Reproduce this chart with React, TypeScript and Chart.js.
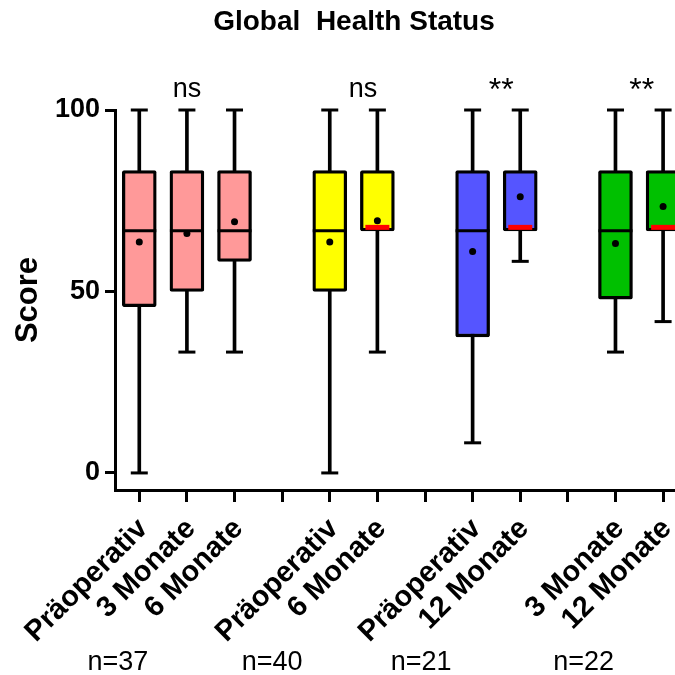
import { useEffect, useRef } from 'react';
import { Chart, registerables } from 'chart.js';

Chart.register(...registerables);

const FONT = '"Liberation Sans", Arial, Helvetica, sans-serif';

// Positions of the boxes on the x axis; 3, 6 and 9 are empty gaps between comparisons.
const slots = [0, 1, 2, 4, 5, 7, 8, 10, 11];
const tickSlots = [0, 1, 2, 3, 4, 5, 6, 7, 8, 9, 10, 11];
const groupLabels = [
  'Präoperativ', '3 Monate', '6 Monate',
  'Präoperativ', '6 Monate',
  'Präoperativ', '12 Monate',
  '3 Monate', '12 Monate',
];

// Five-number summaries plus mean for each box
const whiskerMin = [0, 33.3, 33.3, 0, 33.3, 8.3, 58.3, 33.3, 41.7];
const q1 = [45.8, 50, 58.3, 50, 66.7, 37.5, 66.7, 47.9, 66.7];
const median = [66.7, 66.7, 66.7, 66.7, 66.7, 66.7, 66.7, 66.7, 66.7];
const q3 = [83.3, 83.3, 83.3, 83.3, 83.3, 83.3, 83.3, 83.3, 83.3];
const whiskerMax = [100, 100, 100, 100, 100, 100, 100, 100, 100];
const mean = [63.6, 66.0, 69.2, 63.6, 69.5, 61.0, 76.1, 63.2, 73.4];

const boxColors = [
  '#FF9999', '#FF9999', '#FF9999',
  '#FFFF00', '#FFFF00',
  '#5555FF', '#5555FF',
  '#00C000', '#00C000',
];

const yTicks = [0, 50, 100];

// Significance marks above the comparisons
const sigLabels = ['ns', 'ns', '**', '**'];
const sigX = [1, 4.7, 7.6, 10.55];

// Sample sizes under each comparison
const nLabels = ['n=37', 'n=40', 'n=21', 'n=22'];
const nX = [-0.45, 2.79, 5.92, 9.33];

// Where the median equals Q1 it is marked with a red bar inside the box
const tiedMedianPlugin = {
  id: 'tiedMedian',
  afterDatasetsDraw(chart: any) {
    const { ctx } = chart;
    const xs = chart.scales.x;
    const ys = chart.scales.y;
    ctx.save();
    ctx.fillStyle = '#FF0000';
    slots.forEach((s, i) => {
      if (median[i] <= q1[i]) {
        const px = xs.getPixelForValue(s);
        const py = ys.getPixelForValue(q1[i]);
        ctx.fillRect(px - 12, py - 6, 24, 5);
      }
    });
    ctx.restore();
  },
};

const annotationPlugin = {
  id: 'annotations',
  afterDraw(chart: any) {
    const { ctx, chartArea } = chart;
    const xs = chart.scales.x;
    ctx.save();
    ctx.fillStyle = '#000';
    ctx.textAlign = 'center';
    ctx.textBaseline = 'alphabetic';
    sigLabels.forEach((t, i) => {
      const stars = t.startsWith('*');
      ctx.font = `${stars ? 32 : 27}px ${FONT}`;
      ctx.fillText(t, xs.getPixelForValue(sigX[i]), chartArea.top - (stars ? 10 : 13));
    });
    ctx.font = `27px ${FONT}`;
    nLabels.forEach((t, i) => {
      ctx.fillText(t, xs.getPixelForValue(nX[i]), chart.height - 5);
    });
    ctx.restore();
  },
};

export default function App() {
  const canvasRef = useRef<HTMLCanvasElement | null>(null);

  useEffect(() => {
    const canvas = canvasRef.current;
    if (!canvas) return;

    const capPoints = [
      ...slots.map((x, i) => ({ x, y: whiskerMin[i] })),
      ...slots.map((x, i) => ({ x, y: whiskerMax[i] })),
    ];
    const medianPoints = slots
      .map((x, i) => ({ x, y: median[i] }))
      .filter((_, i) => median[i] > q1[i]);

    const chart = new Chart(canvas, {
      type: 'bar',
      data: {
        datasets: [
          {
            type: 'bar',
            label: 'Whiskers',
            data: slots.map((x, i) => ({ x, y: [whiskerMin[i], whiskerMax[i]] })) as any,
            backgroundColor: '#000',
            borderWidth: 0,
            barThickness: 3,
            grouped: false,
            order: 5,
            clip: false as any,
          },
          {
            type: 'bar',
            label: 'Boxes',
            data: slots.map((x, i) => ({ x, y: [q1[i], q3[i]] })) as any,
            backgroundColor: boxColors,
            borderColor: '#000',
            borderWidth: 3.3,
            borderSkipped: false,
            borderRadius: 2,
            barThickness: 34,
            grouped: false,
            order: 4,
            clip: false as any,
          },
          {
            type: 'scatter',
            label: 'Caps',
            data: capPoints,
            pointStyle: 'line',
            pointRadius: 8.5,
            pointBorderWidth: 3,
            pointBorderColor: '#000',
            order: 3,
            clip: false as any,
          },
          {
            type: 'scatter',
            label: 'Median',
            data: medianPoints,
            pointStyle: 'line',
            pointRadius: 17,
            pointBorderWidth: 3,
            pointBorderColor: '#000',
            order: 2,
            clip: false as any,
          },
          {
            type: 'scatter',
            label: 'Mean',
            data: slots.map((x, i) => ({ x, y: mean[i] })),
            pointStyle: 'circle',
            pointRadius: 3.5,
            pointBackgroundColor: '#000',
            pointBorderWidth: 0,
            order: 1,
            clip: false as any,
          },
        ] as any,
      },
      options: {
        responsive: false,
        animation: false,
        events: [],
        layout: { autoPadding: false, padding: { left: 33, right: 0, top: 0, bottom: 0 } },
        plugins: {
          legend: { display: false },
          tooltip: { enabled: false },
          title: {
            display: true,
            text: 'Global  Health Status',
            color: '#000',
            font: { family: FONT, size: 28, weight: 'bold' },
            padding: { top: 5.5, bottom: 70.9 },
          },
        },
        scales: {
          x: {
            type: 'linear',
            offset: false,
            min: -0.51,
            max: 11.25,
            afterBuildTicks: (scale: any) => {
              scale.ticks = tickSlots.map((v) => ({ value: v }));
            },
            afterFit: (scale: any) => {
              scale.height = 185;
              scale.paddingLeft = 0;
              scale.paddingRight = 0;
            },
            ticks: {
              autoSkip: false,
              minRotation: 45,
              maxRotation: 45,
              padding: 10,
              labelOffset: 4,
              color: '#000',
              font: { family: FONT, size: 29, weight: 'bold' },
              callback: (v: any) => {
                const i = slots.indexOf(Number(v));
                return i >= 0 ? groupLabels[i] : '';
              },
            },
            grid: {
              offset: false,
              drawOnChartArea: false,
              drawTicks: true,
              tickLength: 12,
              tickWidth: 3,
              tickColor: '#000',
            },
            border: { display: true, color: '#000', width: 3 },
          },
          y: {
            min: -4.7,
            max: 100,
            afterBuildTicks: (scale: any) => {
              scale.ticks = yTicks.map((v) => ({ value: v }));
            },
            afterFit: (scale: any) => {
              scale.width = 82;
              scale.paddingTop = 0;
              scale.paddingBottom = 0;
            },
            ticks: {
              padding: 5,
              color: '#000',
              font: { family: FONT, size: 27, weight: 'bold' },
            },
            grid: {
              drawOnChartArea: false,
              drawTicks: true,
              tickLength: 10,
              tickWidth: 3,
              tickColor: '#000',
            },
            border: { display: true, color: '#000', width: 3 },
            title: {
              display: true,
              text: 'Score',
              color: '#000',
              font: { family: FONT, size: 31, weight: 'bold' },
              padding: { top: -23.4, bottom: 0 },
            },
          },
        },
      } as any,
      plugins: [tiedMedianPlugin, annotationPlugin],
    });

    return () => chart.destroy();
  }, []);

  return (
    <div style={{ position: 'fixed', left: 0, top: 0, width: 675, height: 675, background: '#fff' }}>
      <canvas ref={canvasRef} width={675} height={675} style={{ display: 'block' }} />
    </div>
  );
}
